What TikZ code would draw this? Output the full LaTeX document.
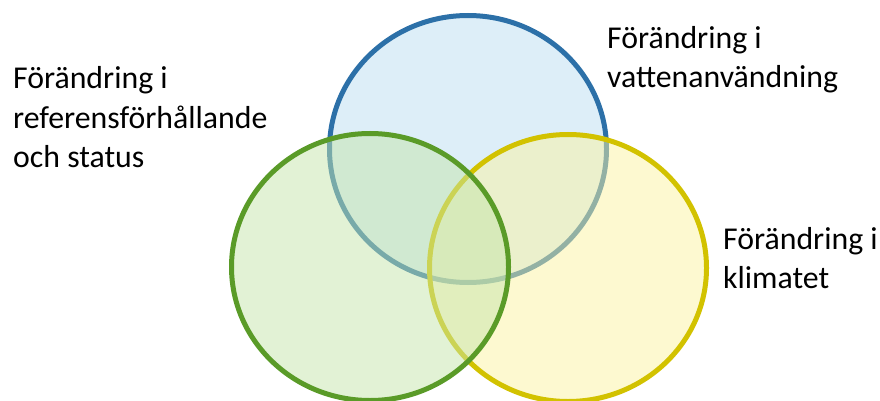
\documentclass[tikz,border=0pt]{standalone}
\usepackage{fontspec}
\setmainfont{Carlito}
\definecolor{ringblue}{HTML}{2C70A8}
\definecolor{ringgreen}{HTML}{5A9B28}
\definecolor{ringyellow}{HTML}{D2C200}
\definecolor{fillblue}{RGB}{187,221,241}
\definecolor{fillgreen}{RGB}{197,229,171}
\definecolor{fillyellow}{RGB}{251,243,161}
\tikzset{
	ring/.style={line width=5pt, fill opacity=0.5},
	label/.style={anchor=base west, align=left, inner sep=0pt, font=\fontsize{31.8}{39}\selectfont}
}
\begin{document}
\begin{tikzpicture}[x=1pt, y=-1pt]
		
		\useasboundingbox (0,0) rectangle (880,401);
		
		\draw[ring, draw=ringblue, fill=fillblue] (468,149) ellipse [x radius=138.5, y radius=133.5];
		\draw[ring, draw=ringyellow, fill=fillyellow] (568,268) ellipse [x radius=138.5, y radius=133.5];
		\draw[ring, draw=ringgreen, fill=fillgreen] (370,267) ellipse [x radius=138.5, y radius=133.5];
		
		% base anchor sits on the last line
		\node[label] (status) at (13,167) {Förändring i\\referensförhållande\\och status};
		\node[label] (vatten) at (607,88) {Förändring i\\vattenanvändning};
		\node[label] (klimat) at (723,288) {Förändring i\\klimatet};
		
	\end{tikzpicture}
\end{document}
